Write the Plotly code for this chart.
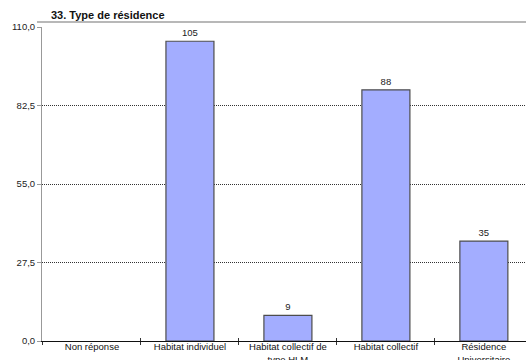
import plotly.graph_objects as go

# Survey question 33: type of residence (counts)
categories = ["Non réponse", "Habitat individuel", "Habitat collectif de<br>type HLM",
              "Habitat collectif", "Résidence<br>Universitaire"]
counts = [None, 105, 9, 88, 35]
labels = ["", "105", "9", "88", "35"]
y_ticks = [0, 27.5, 55, 82.5, 110]

x_range = [-0.51, 4.43]

fig = go.Figure()
fig.add_trace(
    go.Bar(
        x=categories,
        y=counts,
        text=labels,
        textposition="outside",
        cliponaxis=False,
        textfont=dict(family="Liberation Sans", size=9.5, color="#222"),
        marker=dict(color="#a3adff", line=dict(color="#4d4d4d", width=1.2)),
        width=0.49,
    )
)
# helper trace so the overlaid category axis draws its outward ticks
fig.add_trace(
    go.Scatter(x=categories, y=[None] * len(categories), xaxis="x2",
               mode="markers", hoverinfo="skip", showlegend=False)
)

fig.update_layout(
    width=526,
    height=360,
    margin=dict(l=42, r=0, t=27, b=19),
    paper_bgcolor="white",
    plot_bgcolor="white",
    showlegend=False,
    separators=", ",
    font=dict(family="Liberation Sans", size=9.5, color="#222"),
    title=dict(
        text="<b>33. Type de résidence</b>",
        x=51 / 526,
        xanchor="left",
        y=1 - 15 / 360,
        yanchor="middle",
        font=dict(family="Liberation Sans", size=11, color="#111"),
    ),
    shapes=[
        dict(type="line", xref="paper", yref="paper",
             x0=-5 / 484, x1=1, y0=1 + 5 / 314, y1=1 + 5 / 314,
             line=dict(color="#a0a0a0", width=1.5)),
    ],
    xaxis=dict(
        type="category",
        categoryarray=categories,
        range=x_range,
        tickson="boundaries",
        ticks="inside",
        ticklen=3,
        tickcolor="#333",
        showline=True,
        linecolor="#111",
        linewidth=1,
        showgrid=False,
        ticklabelstandoff=-3,
        tickfont=dict(family="Liberation Sans", size=9.5, color="#111"),
        automargin=False,
    ),
    xaxis2=dict(
        type="category",
        categoryarray=categories,
        overlaying="x",
        anchor="y",
        side="bottom",
        range=x_range,
        tickson="boundaries",
        ticks="outside",
        ticklen=3,
        tickcolor="#333",
        showticklabels=False,
        showline=False,
        showgrid=False,
        automargin=False,
    ),
    yaxis=dict(
        range=[0, 110],
        tickvals=y_ticks,
        tickformat=".1f",
        ticks="outside",
        ticklen=4,
        tickcolor="#999",
        showline=True,
        linecolor="#999",
        linewidth=1,
        showgrid=True,
        gridcolor="#333",
        griddash="1px,1px",
        gridwidth=1,
        zeroline=False,
        tickfont=dict(family="Liberation Sans", size=9.5, color="#222"),
        automargin=False,
    ),
)

fig.write_html("out.html")
